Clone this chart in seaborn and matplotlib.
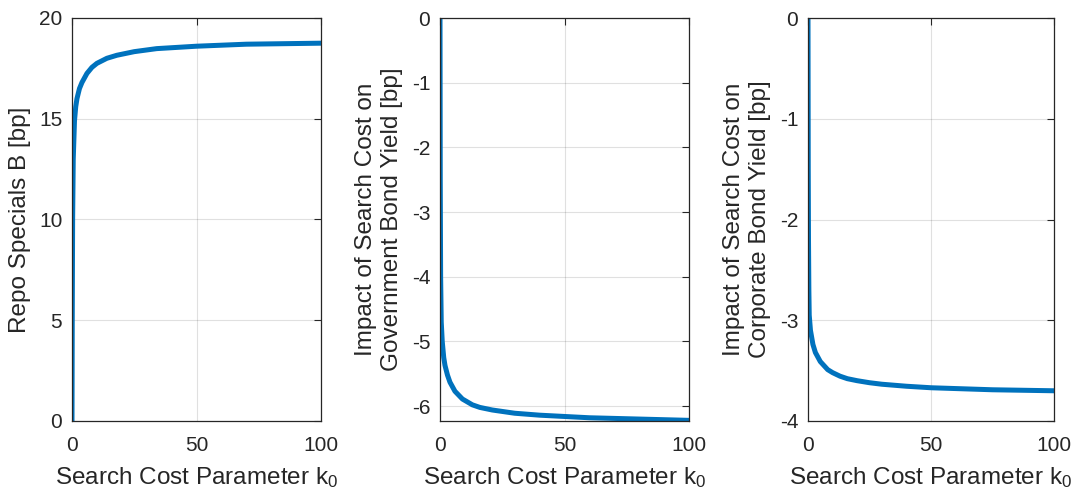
import matplotlib
matplotlib.use("Agg")
import matplotlib.pyplot as plt
import seaborn as sns
import pandas as pd

# search cost parameter k0 and repo specials B [bp]
k_repo = [0, 0.1, 0.25, 0.5, 1, 1.5, 2, 3, 4, 6, 8, 10, 14, 18, 25, 34, 50, 70, 100]
repo_specials = [0, 5, 10, 13, 14.9, 15.6, 16.0, 16.5, 16.8, 17.25, 17.55, 17.75, 18.0, 18.15,
                 18.33, 18.48, 18.6, 18.7, 18.75]

# impact on government bond yield [bp]
k_gov = [0, 0.1, 0.25, 0.5, 0.9, 1.5, 2, 3, 4, 6, 9, 13, 16, 21, 30, 40, 60, 80, 100]
gov_impact = [0, -2.5, -4.0, -4.7, -5.0, -5.25, -5.37, -5.52, -5.63, -5.77, -5.89, -5.98, -6.02,
              -6.06, -6.11, -6.14, -6.18, -6.2, -6.22]

# impact on corporate bond yield [bp]
k_corp = [0, 0.1, 0.2, 0.35, 0.5, 1, 2, 3, 5, 8, 10, 13, 16, 20, 25, 30, 40, 50, 75, 100]
corp_impact = [0, -1.5, -2.2, -2.7, -2.95, -3.1, -3.24, -3.32, -3.41, -3.49, -3.52, -3.555, -3.58,
               -3.6, -3.62, -3.635, -3.655, -3.67, -3.69, -3.7]

sns.set_style("white")
plt.rcParams["font.family"] = ["Liberation Sans", "DejaVu Sans"]
plt.rcParams["mathtext.fontset"] = "custom"
plt.rcParams["mathtext.rm"] = "Liberation Sans"
plt.rcParams["mathtext.it"] = "Liberation Sans"
plt.rcParams["axes.unicode_minus"] = False

fig = plt.figure(figsize=(10.76, 4.92), dpi=100)
W, H = 1076, 492
boxes = [(72, 249), (440, 249), (808, 246)]
top, bottom = 18, 421

panels = [
    (k_repo, repo_specials, "Repo Specials B [bp]", (0, 20), [0, 5, 10, 15, 20]),
    (k_gov, gov_impact, "Impact of Search Cost on\nGovernment Bond Yield [bp]", (-6.23, 0),
     [-6, -5, -4, -3, -2, -1, 0]),
    (k_corp, corp_impact, "Impact of Search Cost on\nCorporate Bond Yield [bp]", (-4, 0),
     [-4, -3, -2, -1, 0]),
]

dark = "#262626"
for (left, width), (kx, vals, ylab, ylim, yticks) in zip(boxes, panels):
    ax = fig.add_axes([left / W, 1 - bottom / H, width / W, (bottom - top) / H])
    df = pd.DataFrame({"k0": kx, "val": vals})
    sns.lineplot(data=df, x="k0", y="val", ax=ax, color="#0072BD", linewidth=3.6, errorbar=None)
    ax.set_xlim(0, 100)
    ax.set_ylim(*ylim)
    ax.set_xticks([0, 50, 100])
    ax.set_yticks(yticks)
    ax.grid(True, color="#000000", alpha=0.12, linewidth=0.8)
    ax.tick_params(direction="in", top=True, right=True, length=5, width=0.8,
                   labelsize=15, colors=dark)
    ax.tick_params(axis="x", pad=11)
    ax.tick_params(axis="y", pad=7)
    for s in ax.spines.values():
        s.set_color(dark)
        s.set_linewidth(0.9)
    ax.set_xlabel("Search Cost Parameter k$_0$", fontsize=17.5, color=dark, labelpad=7)
    ax.set_ylabel(ylab, fontsize=17.5, color=dark, labelpad=6, linespacing=1.25)

fig.savefig("out.png", dpi=100)
